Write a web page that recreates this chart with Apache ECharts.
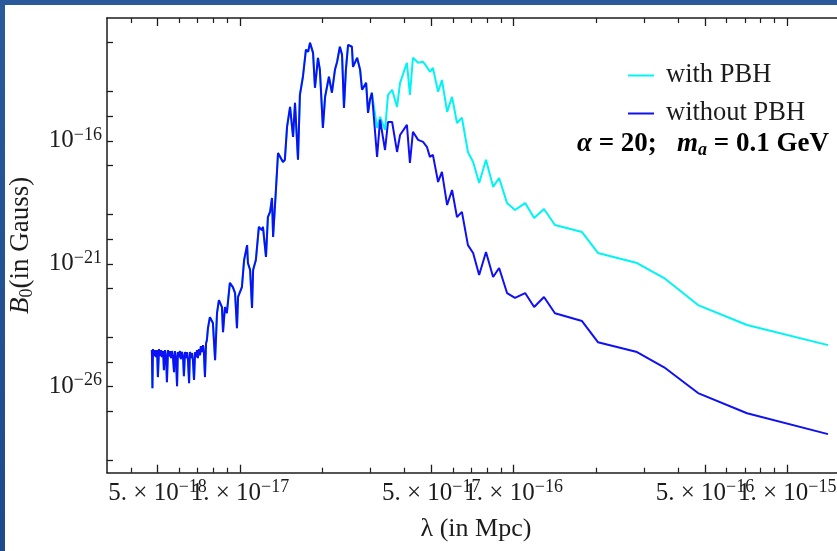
<!DOCTYPE html>
<html>
<head>
<meta charset="utf-8">
<script src="https://cdn.jsdelivr.net/npm/echarts@6/dist/echarts.min.js"></script>
<style>
  html, body { margin: 0; padding: 0; background: #ffffff; }
  #wrap { position: relative; width: 837px; height: 551px; overflow: hidden; background: #ffffff; }
  #wrap::before { content: ""; position: absolute; left: 0; top: 0; width: 837px; height: 5px; background: #2a5a9c; z-index: 2; }
  #wrap::after { content: ""; position: absolute; left: 0; top: 0; width: 5px; height: 551px; background: linear-gradient(#2a5a9c, #1d4a8c); z-index: 2; }
  #chart { position: absolute; left: 0; top: 0; width: 837px; height: 551px; }
</style>
</head>
<body>
<div id="wrap"><div id="chart"></div></div>
<script>
// Primordial magnetic field strength B0 versus comoving scale λ (log10 values).
// Both runs coincide below λ ≈ 3e-17 Mpc; they separate afterwards.

// log10(λ / Mpc) and log10(B0 / G) for the common part of the spectrum
const sharedLogLambda = [
  -17.322, -17.320, -17.318, -17.314, -17.311, -17.307, -17.303, -17.300, -17.296, -17.292,
  -17.289, -17.285, -17.281, -17.278, -17.274, -17.270, -17.267, -17.263, -17.260, -17.256,
  -17.252, -17.249, -17.245, -17.241, -17.238, -17.234, -17.230, -17.227, -17.223, -17.219,
  -17.216, -17.212, -17.208, -17.205, -17.201, -17.197, -17.194, -17.190, -17.186, -17.183,
  -17.179, -17.175, -17.172, -17.168, -17.164, -17.161, -17.157, -17.154, -17.150, -17.146,
  -17.143, -17.139, -17.135, -17.132, -17.128, -17.124,
  -17.121, -17.117, -17.110, -17.099, -17.091, -17.084, -17.077, -17.066, -17.062, -17.055,
  -17.048, -17.037, -17.026, -17.018, -17.011, -17.007, -16.993, -16.985, -16.974, -16.971,
  -16.963, -16.956, -16.952, -16.942, -16.931, -16.920, -16.916, -16.905, -16.898, -16.890,
  -16.883, -16.879, -16.868, -16.861, -16.854, -16.843, -16.836, -16.828, -16.817, -16.806,
  -16.799, -16.788, -16.781, -16.770, -16.759, -16.751, -16.744, -16.733, -16.726, -16.715,
  -16.708, -16.697, -16.689, -16.682, -16.675, -16.664, -16.653, -16.645, -16.635, -16.627,
  -16.620, -16.613, -16.605, -16.591, -16.587, -16.572, -16.561, -16.554, -16.539, -16.532,
  -16.525, -16.518
];
const sharedLogB = [
  -24.51, -26.06, -24.47, -24.76, -24.51, -24.80, -24.51, -25.61, -24.47, -24.76,
  -24.51, -24.80, -24.55, -25.33, -24.51, -24.80, -25.82, -24.51, -24.76, -24.55,
  -24.84, -24.55, -24.80, -25.41, -24.55, -24.84, -25.98, -24.59, -24.80, -24.55,
  -24.88, -24.59, -24.80, -25.57, -24.59, -24.84, -24.59, -24.92, -25.86, -24.59,
  -24.84, -24.63, -24.92, -25.73, -24.59, -24.80, -24.51, -24.84, -24.47, -24.72,
  -24.35, -24.59, -24.31, -24.59, -25.61, -24.23,
  -24.11, -23.62, -23.17, -23.41, -24.92, -23.01, -22.48, -22.76, -23.78, -22.76,
  -23.01, -21.78, -21.95, -22.19, -23.62, -22.35, -21.95, -20.85, -20.24, -20.97,
  -21.25, -22.80, -21.25, -20.85, -19.50, -19.63, -19.50, -20.72, -19.10, -18.89,
  -18.32, -19.91, -17.87, -16.49, -16.57, -16.86, -16.77, -15.43, -14.62, -15.84,
  -14.45, -16.77, -14.13, -13.39, -12.29, -12.37, -12.01, -12.42, -13.84, -12.62,
  -13.11, -15.47, -14.21, -14.25, -13.39, -14.04, -13.11, -12.78, -12.17, -12.50,
  -14.66, -13.11, -12.09, -12.17, -12.99, -12.62, -13.11, -13.92, -13.64, -14.86,
  -14.33, -14.04
];

// λ grid after the two runs separate
const tailLogLambda = [
  -16.499, -16.488, -16.470, -16.459, -16.444, -16.426, -16.415, -16.390, -16.379, -16.368,
  -16.349, -16.331, -16.317, -16.306, -16.295, -16.276, -16.262, -16.243, -16.225, -16.207,
  -16.189, -16.167, -16.148, -16.126, -16.101, -16.075, -16.053, -16.024, -15.995, -15.958,
  -15.925, -15.889, -15.849, -15.750, -15.692, -15.549, -15.450, -15.326, -15.147, -14.851
];
// log10(B0) with primordial black holes
const tailLogBWithPBH = [
  -15.47, -15.02, -15.55, -14.13, -13.92, -14.62, -13.64, -12.82, -14.13, -12.62,
  -12.82, -12.78, -12.99, -13.19, -13.03, -14.00, -13.52, -14.82, -14.21, -15.27,
  -15.06, -16.45, -16.86, -17.71, -16.77, -17.87, -17.51, -18.53, -18.81, -18.53,
  -19.14, -18.77, -19.42, -19.71, -20.56, -20.97, -21.58, -22.68, -23.49, -24.31
];
// log10(B0) without primordial black holes
const tailLogBWithoutPBH = [
  -16.65, -15.14, -16.37, -15.23, -15.23, -16.45, -15.76, -15.35, -16.90, -15.63,
  -15.96, -16.04, -16.24, -16.65, -16.57, -17.67, -17.26, -18.61, -18.00, -19.10,
  -18.89, -20.24, -20.56, -21.46, -20.52, -21.54, -21.17, -22.19, -22.39, -22.19,
  -22.76, -22.35, -23.01, -23.33, -24.19, -24.59, -25.21, -26.26, -27.08, -27.93
];

// axis ticks (λ in Mpc, B0 as powers of ten)
const xFiveTicks = [5e-18, 5e-17, 5e-16];
const xFiveExponent = ['\u221218', '\u221217', '\u221216'];
const xOneTicks = [1e-17, 1e-16, 1e-15];
const xOneExponent = ['\u221217', '\u221216', '\u221215'];
const xMinorTicks = [4e-18, 6e-18, 7e-18, 8e-18, 9e-18, 2e-17, 3e-17, 4e-17, 6e-17, 7e-17, 8e-17, 9e-17,
  2e-16, 3e-16, 4e-16, 6e-16, 7e-16, 8e-16, 9e-16, 2e-15];
const yLabelExponents = [-16, -21, -26];
const yTickExponents = [-12, -14, -15, -16, -17, -19, -20, -21, -22, -24, -25, -26, -27, -29];

const seriesNames = ['with PBH', 'without PBH'];
const seriesColors = ['#00f4f4', '#1010f4'];

const X_MIN = -17.486, X_MAX = -14.789;
const Y_MIN = -29.5, Y_MAX = -11;
const FONT = '"Liberation Serif", "Times New Roman", serif';
const INK = '#1c1c1c';

function zip(xs, ys) { return xs.map((x, i) => [x, ys[i]]); }
const withData = zip(sharedLogLambda, sharedLogB).concat(zip(tailLogLambda, tailLogBWithPBH));
const withoutData = zip(sharedLogLambda, sharedLogB).concat(zip(tailLogLambda, tailLogBWithoutPBH));

const xFiveLog = xFiveTicks.map(Math.log10);
const xOneLog = xOneTicks.map(Math.log10);
const xMajorLog = xFiveLog.concat(xOneLog);
const xMinorLog = xMinorTicks.map(Math.log10);

const powRich = {
  b: { fontFamily: FONT, fontSize: 25, color: INK, lineHeight: 30, verticalAlign: 'middle' },
  s: { fontFamily: FONT, fontSize: 18, color: INK, lineHeight: 18, verticalAlign: 'top' }
};

function xAxisBase(pos) {
  return {
    type: 'value', position: pos, min: X_MIN, max: X_MAX, gridIndex: 0,
    splitLine: { show: false },
    axisLine: { show: false },
    axisLabel: { show: false },
    axisTick: { show: false }
  };
}

// one label family per axis, so neighbouring "5.×" and "1.×" labels may overlap freely
function xLabelAxis(values, mantissa, exponents) {
  return Object.assign(xAxisBase('bottom'), {
    axisLabel: {
      show: true, margin: 6, customValues: values, showMinLabel: true, showMaxLabel: true, hideOverlap: false,
      formatter: function (v) {
        let k = 0;
        values.forEach((t, i) => { if (Math.abs(t - v) < 1e-6) k = i; });
        return '{b|' + mantissa + ' \u00d7 10}{s|' + exponents[k] + '}';
      },
      rich: powRich
    }
  });
}

const xMainAxis = Object.assign(xLabelAxis(xFiveLog, '5.', xFiveExponent), {
  axisLine: { show: true, lineStyle: { color: INK, width: 1.5 } },
  axisTick: { show: true, inside: true, length: 8, customValues: xMajorLog, lineStyle: { color: INK, width: 1.3 } },
  name: '\u03bb (in Mpc)', nameLocation: 'middle', nameGap: 43,
  nameTextStyle: { fontFamily: FONT, fontSize: 26, color: INK }
});
const xOneAxis = xLabelAxis(xOneLog, '1.', xOneExponent);
const xMinorAxis = Object.assign(xAxisBase('bottom'), {
  axisTick: { show: true, inside: true, length: 5, customValues: xMinorLog, lineStyle: { color: INK, width: 1.2 } }
});
const xTopMajor = Object.assign(xAxisBase('top'), {
  axisLine: { show: true, lineStyle: { color: INK, width: 1.5 } },
  axisTick: { show: true, inside: true, length: 8, customValues: xMajorLog, lineStyle: { color: INK, width: 1.3 } }
});
const xTopMinor = Object.assign(xAxisBase('top'), {
  axisTick: { show: true, inside: true, length: 5, customValues: xMinorLog, lineStyle: { color: INK, width: 1.2 } }
});

const chart = echarts.init(document.getElementById('chart'), null, { renderer: 'canvas' });
chart.setOption({
  animation: false,
  backgroundColor: 'transparent',
  grid: { left: 107, top: 18, width: 738, height: 454.7, outerBoundsMode: 'none', containLabel: false },
  xAxis: [xMainAxis, xOneAxis, xMinorAxis, xTopMajor, xTopMinor],
  yAxis: [{
    type: 'value', position: 'left', min: Y_MIN, max: Y_MAX,
    splitLine: { show: false },
    axisLine: { show: true, lineStyle: { color: INK, width: 1.5 } },
    axisTick: { show: true, inside: true, length: 6, customValues: yTickExponents, lineStyle: { color: INK, width: 1.3 } },
    axisLabel: {
      show: true, margin: 5, customValues: yLabelExponents,
      formatter: function (v) { return '{b|10}{s|\u2212' + Math.abs(v) + '}'; },
      rich: powRich
    },
    name: '{i|B}{sub|0}{n|(in Gauss)}', nameLocation: 'middle', nameGap: 71,
    nameTextStyle: {
      fontFamily: FONT, fontSize: 26, color: INK,
      rich: {
        i: { fontFamily: FONT, fontSize: 27, fontStyle: 'italic', color: INK, lineHeight: 30, verticalAlign: 'middle' },
        sub: { fontFamily: FONT, fontSize: 18, color: INK, lineHeight: 18, verticalAlign: 'bottom' },
        n: { fontFamily: FONT, fontSize: 27, color: INK, lineHeight: 30, verticalAlign: 'middle' }
      }
    }
  }],
  legend: {
    orient: 'vertical', left: 628, top: 62, padding: 0, itemWidth: 26, itemHeight: 2, itemGap: 11,
    icon: 'rect',
    textStyle: { fontFamily: FONT, fontSize: 26.5, color: INK, padding: [0, 0, 0, 7] },
    data: seriesNames
  },
  graphic: [{
    type: 'text', left: 577, top: 131, z: 10,
    style: {
      text: '{g|\u03b1}{b| = 20;   }{m|m}{a|a}{b| = 0.1 GeV}',
      rich: {
        g: { fontFamily: FONT, fontSize: 27, fontWeight: 'bold', fontStyle: 'italic', fill: '#000', lineHeight: 30, verticalAlign: 'middle' },
        b: { fontFamily: FONT, fontSize: 27, fontWeight: 'bold', fill: '#000', lineHeight: 30, verticalAlign: 'middle' },
        m: { fontFamily: FONT, fontSize: 27, fontWeight: 'bold', fontStyle: 'italic', fill: '#000', lineHeight: 30, verticalAlign: 'middle' },
        a: { fontFamily: FONT, fontSize: 18, fontWeight: 'bold', fontStyle: 'italic', fill: '#000', lineHeight: 18, verticalAlign: 'bottom' }
      }
    }
  }],
  series: [
    { name: seriesNames[0], type: 'line', data: withData, showSymbol: false, symbol: 'none',
      lineStyle: { color: seriesColors[0], width: 2 }, itemStyle: { color: seriesColors[0] } },
    { name: seriesNames[1], type: 'line', data: withoutData, showSymbol: false, symbol: 'none',
      lineStyle: { color: seriesColors[1], width: 2 }, itemStyle: { color: seriesColors[1] } }
  ]
});
</script>
</body>
</html>
